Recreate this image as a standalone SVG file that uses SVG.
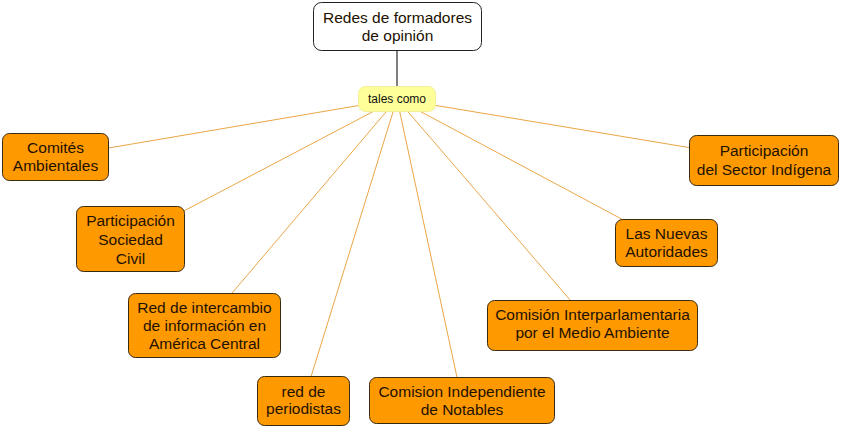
<svg xmlns="http://www.w3.org/2000/svg" width="844" height="428" viewBox="0 0 844 428">
<style>
text{font-family:"Liberation Sans",Arial,sans-serif;font-size:15.5px;fill:#221100;text-anchor:middle}
.c{fill:#ff9900;stroke:#3a2a10;stroke-width:1}
.top{fill:#fff;stroke:#222;stroke-width:1}
.lk{fill:#ffff99;stroke:#f2ef9a;stroke-width:1}
.lk-t{font-size:12px;fill:#111}
.e{stroke:#eba647;stroke-width:1;fill:none}
</style>
<rect width="844" height="428" fill="#fff"/>
<g id="connectors">
<line x1="397" y1="51" x2="397" y2="87" stroke="#000" stroke-width="1"/>
<line class="e" x1="397" y1="99" x2="55.5" y2="157"/>
<line class="e" x1="397" y1="99" x2="130.5" y2="239"/>
<line class="e" x1="397" y1="99" x2="204.5" y2="325.5"/>
<line class="e" x1="397" y1="99" x2="303.5" y2="401"/>
<line class="e" x1="397" y1="99" x2="462" y2="400.5"/>
<line class="e" x1="397" y1="99" x2="592.5" y2="326"/>
<line class="e" x1="397" y1="99" x2="666.5" y2="243"/>
<line class="e" x1="397" y1="99" x2="764" y2="160"/>
</g>
<g id="n-redes">
<rect class="top" x="313.5" y="2.5" width="168" height="48" rx="8"/>
<text x="397.5" y="23">Redes de formadores</text>
<text x="397.5" y="41">de opinión</text>
</g>
<g id="l-tales">
<rect class="lk" x="358.5" y="86.5" width="77" height="25" rx="7"/>
<text class="lk-t" x="397" y="103">tales como</text>
</g>
<g id="n-comites">
<rect class="c" x="2.5" y="133.5" width="106" height="47" rx="7"/>
<text x="55.5" y="153">Comités</text>
<text x="55.5" y="171">Ambientales</text>
</g>
<g id="n-sociedad">
<rect class="c" x="76.5" y="206.5" width="108" height="65" rx="7"/>
<text x="130.5" y="226">Participación</text>
<text x="130.5" y="245">Sociedad</text>
<text x="130.5" y="264">Civil</text>
</g>
<g id="n-red-intercambio">
<rect class="c" x="128.5" y="293.5" width="152" height="64" rx="7"/>
<text x="204.5" y="313">Red de intercambio</text>
<text x="204.5" y="331">de información en</text>
<text x="204.5" y="349">América Central</text>
</g>
<g id="n-periodistas">
<rect class="c" x="257.5" y="376.5" width="92" height="49" rx="7"/>
<text x="303.5" y="397">red de</text>
<text x="303.5" y="414">periodistas</text>
</g>
<g id="n-notables">
<rect class="c" x="369.5" y="377.5" width="185" height="46" rx="7"/>
<text x="462" y="397">Comision Independiente</text>
<text x="462" y="415">de Notables</text>
</g>
<g id="n-interparlamentaria">
<rect class="c" x="487.5" y="300.5" width="210" height="50" rx="7"/>
<text x="592.5" y="320">Comisión Interparlamentaria</text>
<text x="592.5" y="338">por el Medio Ambiente</text>
</g>
<g id="n-autoridades">
<rect class="c" x="615.5" y="219.5" width="102" height="47" rx="7"/>
<text x="666.5" y="239">Las Nuevas</text>
<text x="666.5" y="257">Autoridades</text>
</g>
<g id="n-indigena">
<rect class="c" x="689.5" y="135.5" width="149" height="50" rx="7"/>
<text x="764" y="156">Participación</text>
<text x="764" y="175">del Sector Indígena</text>
</g>
</svg>
